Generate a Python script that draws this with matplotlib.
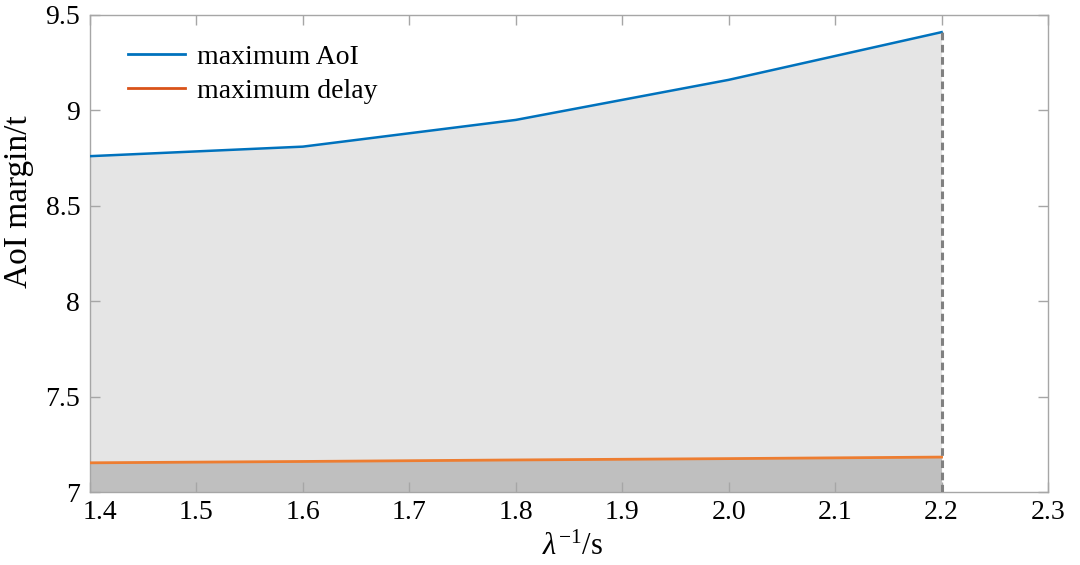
import matplotlib
matplotlib.use('Agg')
import matplotlib.pyplot as plt
import matplotlib.transforms as mtransforms
from matplotlib.lines import Line2D

# inverse arrival rate (s) and the two margins
inv_rate = [1.4, 1.6, 1.8, 2.0, 2.2]
max_aoi = [8.76, 8.81, 8.95, 9.16, 9.41]
max_delay = [7.153, 7.160, 7.168, 7.175, 7.183]

x_ticks = [1.4, 1.5, 1.6, 1.7, 1.8, 1.9, 2.0, 2.1, 2.2, 2.3]
x_tick_labels = ['1.4', '1.5', '1.6', '1.7', '1.8', '1.9', '2.0', '2.1', '2.2', '2.3']
y_ticks = [7, 7.5, 8, 8.5, 9, 9.5]
y_tick_labels = ['7', '7.5', '8', '8.5', '9', '9.5']

plt.rcParams['font.family'] = ['Liberation Serif', 'DejaVu Serif']
plt.rcParams['mathtext.fontset'] = 'custom'
plt.rcParams['mathtext.rm'] = 'Liberation Serif'
plt.rcParams['mathtext.it'] = 'Liberation Serif:italic'

blue = '#0072BD'
orange = '#ED7D31'
edge = '#A6A6A6'

fig = plt.figure(figsize=(10.8, 5.65), dpi=100)
ax = fig.add_axes([0.0833, 0.1292, 0.8871, 0.8443])

# shaded regions: below the delay curve, and between delay and AoI
ax.fill_between(inv_rate, 7, max_delay, color='#BFBFBF', lw=0, zorder=1)
ax.fill_between(inv_rate, max_delay, max_aoi, color='#E5E5E5', lw=0, zorder=1)

ax.plot(inv_rate, max_aoi, color=blue, lw=1.8, zorder=3)
ax.plot(inv_rate, max_delay, color=orange, lw=2.0, zorder=3)
ax.vlines(inv_rate[-1], 7, max_aoi[-1], colors='#808080', lw=2.2,
          linestyles=(0, (2.5, 1.5)), zorder=4)

ax.set_xlim(1.4, 2.3)
ax.set_ylim(7, 9.5)
ax.set_xticks(x_ticks)
ax.set_xticklabels(x_tick_labels)
ax.set_yticks(y_ticks)
ax.set_yticklabels(y_tick_labels)

for s in ax.spines.values():
    s.set_color(edge)
    s.set_linewidth(1.0)
ax.tick_params(direction='in', length=7, width=1.0, color=edge,
               top=True, right=True, labelsize=20, labelcolor='black')
ax.tick_params(axis='y', pad=7)
ax.tick_params(axis='x', pad=6)

# nudge the first x label right so it clears the "7"
first = ax.get_xticklabels()[0]
first.set_transform(first.get_transform() +
                    mtransforms.ScaledTranslation(10 / 100, 0, fig.dpi_scale_trans))

ax.set_ylabel('AoI margin/t', fontsize=24)
ax.yaxis.set_label_coords(-0.0585, 0.608)
ax.set_xlabel(r'$\lambda^{\mathregular{-1}}$/s', fontsize=22)
ax.xaxis.set_label_coords(0.504, -0.085)

handles = [Line2D([], [], color=blue, lw=2.0),
           Line2D([], [], color='#D95319', lw=2.0)]
ax.legend(handles, ['maximum AoI', 'maximum delay'], loc='upper left',
          bbox_to_anchor=(0.0136, 0.99), frameon=False, fontsize=20,
          handlelength=2.05, handletextpad=0.43, labelspacing=0.3)

fig.savefig('out.png', dpi=100)
